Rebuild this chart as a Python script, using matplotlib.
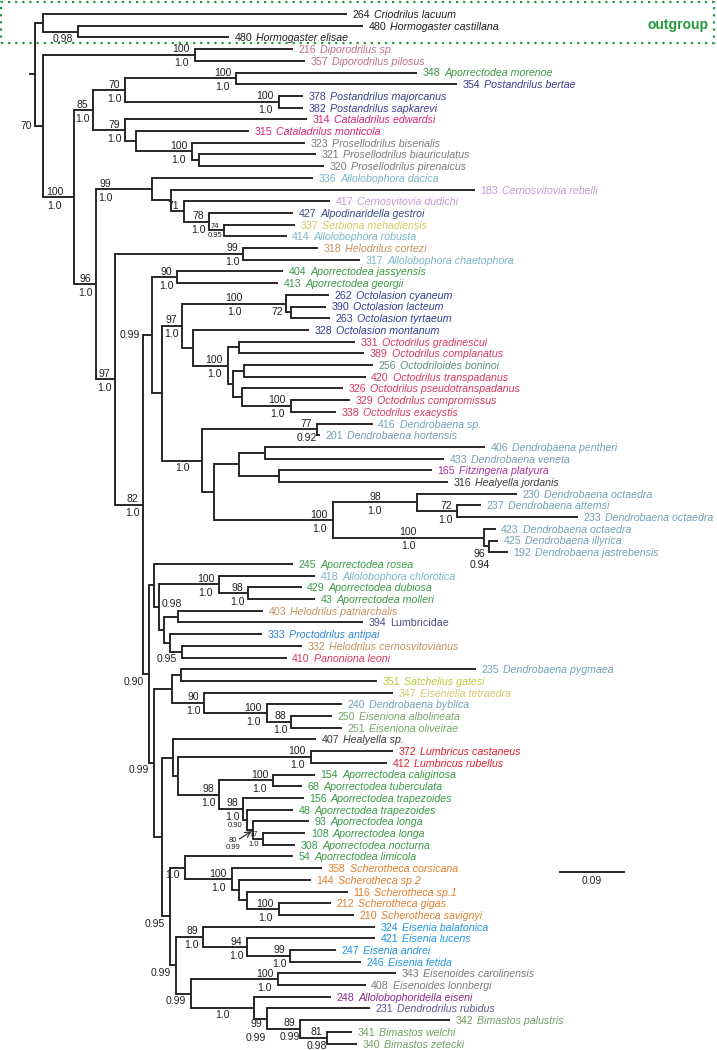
"""
Filogenia de minhocas (Lumbricidae) com valores de suporte
"""

import re
import matplotlib
matplotlib.use('Agg')  # backend sem janela
import matplotlib.pyplot as plt
from matplotlib.patches import Rectangle

# Terminais (ordem de cima para baixo)
TIP_ID = [264, 480, 480, 216, 357, 348, 354, 378, 382, 314, 315, 323, 321, 320,
          336, 183, 417, 427, 337, 414, 318, 317, 404, 413, 262, 390, 263, 328,
          331, 389, 256, 420, 326, 329, 338, 416, 201, 406, 433, 165, 316, 230,
          237, 233, 423, 425, 192, 245, 418, 429, 43, 403, 394, 333, 332, 410,
          235, 351, 347, 240, 250, 251, 407, 372, 412, 154, 68, 156, 48, 93,
          108, 308, 54, 358, 144, 116, 212, 210, 324, 421, 247, 246, 343, 408,
          248, 231, 342, 341, 340]

TIP_NAME = [
    'Criodrilus lacuum', 'Hormogaster castillana', 'Hormogaster elisae',
    'Diporodrilus sp.', 'Diporodrilus pilosus', 'Aporrectodea morenoe',
    'Postandrilus bertae', 'Postandrilus majorcanus', 'Postandrilus sapkarevi',
    'Cataladrilus edwardsi', 'Cataladrilus monticola', 'Prosellodrilus biserialis',
    'Prosellodrilus biauriculatus', 'Prosellodrilus pirenaicus',
    'Allolobophora dacica', 'Cernosvitovia rebelli', 'Cernosvitovia dudichi',
    'Alpodinaridella gestroi', 'Serbiona mehadiensis', 'Allolobophora robusta',
    'Helodrilus cortezi', 'Allolobophora chaetophora', 'Aporrectodea jassyensis',
    'Aporrectodea georgii', 'Octolasion cyaneum', 'Octolasion lacteum',
    'Octolasion tyrtaeum', 'Octolasion montanum', 'Octodrilus gradinescui',
    'Octodrilus complanatus', 'Octodriloides boninoi', 'Octodrilus transpadanus',
    'Octodrilus pseudotranspadanus', 'Octodrilus compromissus',
    'Octodrilus exacystis', 'Dendrobaena sp.', 'Dendrobaena hortensis',
    'Dendrobaena pentheri', 'Dendrobaena veneta', 'Fitzingeria platyura',
    'Healyella jordanis', 'Dendrobaena octaedra', 'Dendrobaena attemsi',
    'Dendrobaena octaedra', 'Dendrobaena octaedra', 'Dendrobaena illyrica',
    'Dendrobaena jastrebensis', 'Aporrectodea rosea', 'Allolobophora chlorotica',
    'Aporrectodea dubiosa', 'Aporrectodea molleri', 'Helodrilus patriarchalis',
    'Lumbricidae', 'Proctodrilus antipai', 'Helodrilus cernosvitovianus',
    'Panoniona leoni', 'Dendrobaena pygmaea', 'Satchelius gatesi',
    'Eiseniella tetraedra', 'Dendrobaena byblica', 'Eiseniona albolineata',
    'Eiseniona oliveirae', 'Healyella sp.', 'Lumbricus castaneus',
    'Lumbricus rubellus', 'Aporrectodea caliginosa', 'Aporrectodea tuberculata',
    'Aporrectodea trapezoides', 'Aporrectodea trapezoides', 'Aporrectodea longa',
    'Aporrectodea longa', 'Aporrectodea nocturna', 'Aporrectodea limicola',
    'Scherotheca corsicana', 'Scherotheca sp.2', 'Scherotheca sp.1',
    'Scherotheca gigas', 'Scherotheca savignyi', 'Eisenia balatonica',
    'Eisenia lucens', 'Eisenia andrei', 'Eisenia fetida',
    'Eisenoides carolinensis', 'Eisenoides lonnbergi',
    'Allolobophoridella eiseni', 'Dendrodrilus rubidus', 'Bimastos palustris',
    'Bimastos welchi', 'Bimastos zetecki']

TIP_GROUP = ['blk', 'blk', 'blk', 'dipo', 'dipo', 'apor', 'post', 'post', 'post',
             'cata', 'cata', 'pros', 'pros', 'pros', 'allo', 'cern', 'cern',
             'alpo', 'serb', 'allo', 'helo', 'allo', 'apor', 'apor', 'octl',
             'octl', 'octl', 'octl', 'octd', 'octd', 'octo', 'octd', 'octd',
             'octd', 'octd', 'dend', 'dend', 'dend', 'dend', 'fitz', 'heal',
             'dend', 'dend', 'dend', 'dend', 'dend', 'dend', 'apor', 'allo',
             'apor', 'apor', 'helo', 'lumb', 'proc', 'helo', 'pano', 'dend',
             'satc', 'eisl', 'dend', 'eisn', 'eisn', 'heal', 'lumr', 'lumr',
             'apor', 'apor', 'apor', 'apor', 'apor', 'apor', 'apor', 'apor',
             'sche', 'sche', 'sche', 'sche', 'sche', 'eise', 'eise', 'eise',
             'eise', 'eino', 'eino', 'alld', 'dedr', 'bima', 'bima', 'bima']

# distancia da raiz (subst./sitio) de cada terminal
TIP_DEPTH = [0.439, 0.461, 0.273, 0.363, 0.380, 0.537, 0.593, 0.377, 0.377,
             0.383, 0.301, 0.380, 0.395, 0.406, 0.391, 0.619, 0.415, 0.363,
             0.366, 0.354, 0.398, 0.457, 0.349, 0.342, 0.413, 0.409, 0.415,
             0.385, 0.450, 0.463, 0.475, 0.465, 0.433, 0.443, 0.423, 0.475,
             0.401, 0.633, 0.575, 0.558, 0.581, 0.678, 0.627, 0.764, 0.648,
             0.651, 0.665, 0.363, 0.394, 0.375, 0.394, 0.321, 0.461, 0.319,
             0.375, 0.354, 0.620, 0.481, 0.503, 0.432, 0.418, 0.432, 0.395,
             0.503, 0.495, 0.394, 0.375, 0.378, 0.363, 0.385, 0.380, 0.366,
             0.363, 0.404, 0.388, 0.440, 0.416, 0.449, 0.478, 0.478, 0.423,
             0.458, 0.508, 0.465, 0.416, 0.471, 0.584, 0.446, 0.453]

# topologia (tN = terminal N, nomes depois de ')' = nos internos)
TREE = (
    "((t0,(t1,t2)HORM)OG,((t3,t4)DIP,"
    "((((t5,t6)MOR,(t7,t8)POST)N70,(t9,(t10,(t11,(t12,t13)PROS2)PROS)CAT2)N79)N85,"
    "((t14,(t15,(t16,(t17,(t18,t19)N74)N78)N71)CER)C99,"
    "((t20,t21)HELO,"
    "(((t22,t23)N90J,(((t24,(t25,t26)OCT2)OCTL,(t27,((t28,t29)ODA,((t30,t31)ODC,"
    "(t32,(t33,t34)ODE)ODD)ODB)OD100)N193)N97O,((t35,t36)D77,(((t37,t38)DPV,"
    "(t39,t40)FH)N239,((t41,(t42,t43)D72)D98,(t44,(t45,t46)D96)D100b)D100)N214)N1D)N162)C099,"
    "((t47,((t48,(t49,t50)N248)N219,((t51,t52)N178,(t53,(t54,t55)N182)N170)N164)N159)N154a,"
    "(((t56,t57)N181,(t58,(t59,(t60,t61)N88)N100E)N90E)N172,"
    "((t62,((t63,t64)LUM,((t65,t66)N273,(t67,(t68,(t69,(t70,t71)N263)N253)N247)N243)N219b)N178b)N173,"
    "((t72,(t73,(t74,(t75,(t76,t77)N279)N247s)N239s)N232)N185,"
    "((t78,(t79,(t80,t81)N290)N247e)N203,((t82,t83)N278,"
    "(t84,(t85,(t86,(t87,t88)N327)N300)N267)N254)N191)N176)N170b)N162b)N154b)C090)C82)C97)N96)A)IN)ROOT"
)

NODE_DEPTH = {
    'ROOT': 0.0, 'OG': 0.011, 'HORM': 0.060, 'IN': 0.011, 'DIP': 0.225,
    'A': 0.055, 'N85': 0.082, 'N70': 0.127, 'MOR': 0.283, 'POST': 0.343,
    'N79': 0.127, 'CAT2': 0.142, 'PROS': 0.221, 'PROS2': 0.231, 'N96': 0.086,
    'C99': 0.165, 'CER': 0.191, 'N71': 0.210, 'N78': 0.245, 'N74': 0.266,
    'C97': 0.113, 'HELO': 0.293, 'C82': 0.152, 'C099': 0.165, 'N90J': 0.200,
    'N162': 0.179, 'N97O': 0.207, 'OCTL': 0.353, 'OCT2': 0.360, 'N193': 0.222,
    'OD100': 0.271, 'ODA': 0.287, 'ODB': 0.278, 'ODC': 0.294, 'ODD': 0.291,
    'ODE': 0.360, 'N1D': 0.235, 'D77': 0.397, 'N214': 0.252, 'N239': 0.287,
    'DPV': 0.323, 'FH': 0.343, 'D100': 0.419, 'D98': 0.537, 'D72': 0.593,
    'D100b': 0.631, 'D96': 0.638, 'C090': 0.160, 'N154a': 0.167,
    'N159': 0.174, 'N219': 0.259, 'N248': 0.300, 'N164': 0.181, 'N178': 0.201,
    'N170': 0.190, 'N182': 0.207, 'N154b': 0.167, 'N172': 0.193,
    'N181': 0.205, 'N90E': 0.238, 'N100E': 0.326, 'N88': 0.360,
    'N162b': 0.179, 'N173': 0.194, 'N178b': 0.201, 'LUM': 0.388,
    'N219b': 0.259, 'N273': 0.335, 'N243': 0.293, 'N247': 0.298,
    'N253': 0.307, 'N263': 0.321, 'N170b': 0.190, 'N185': 0.211,
    'N232': 0.277, 'N239s': 0.287, 'N247s': 0.298, 'N279': 0.343,
    'N176': 0.198, 'N203': 0.236, 'N247e': 0.298, 'N290': 0.359,
    'N191': 0.219, 'N278': 0.342, 'N254': 0.308, 'N267': 0.326,
    'N300': 0.373, 'N327': 0.411,
}

# (bootstrap, probabilidade posterior)
SUPPORT = {
    'HORM': ('', '0.98'), 'IN': ('70', ''), 'DIP': ('100', '1.0'),
    'A': ('100', '1.0'), 'N85': ('85', '1.0'), 'N70': ('70', '1.0'),
    'MOR': ('100', '1.0'), 'POST': ('100', '1.0'), 'N79': ('79', '1.0'),
    'PROS': ('100', '1.0'), 'N96': ('96', '1.0'), 'C99': ('99', '1.0'),
    'N71': ('71', ''), 'N78': ('78', '1.0'), 'N74': ('74', '0.95'),
    'C97': ('97', '1.0'), 'HELO': ('99', '1.0'), 'C82': ('82', '1.0'),
    'C099': ('0.99', ''), 'N90J': ('90', '1.0'), 'N97O': ('97', '1.0'),
    'OCTL': ('100', '1.0'), 'OCT2': ('72', ''), 'OD100': ('100', '1.0'),
    'ODE': ('100', '1.0'), 'N1D': ('', '1.0'), 'D77': ('77', '0.92'),
    'D100': ('100', '1.0'), 'D98': ('98', '1.0'), 'D72': ('72', '1.0'),
    'D100b': ('100', '1.0'), 'D96': ('96', '0.94'), 'C090': ('', '0.90'),
    'N159': ('0.98', ''), 'N219': ('100', '1.0'), 'N248': ('98', '1.0'),
    'N182': ('', '0.95'), 'N154b': ('', '0.99'), 'N90E': ('90', '1.0'),
    'N100E': ('100', '1.0'), 'N88': ('88', '1.0'), 'N170b': ('', '0.95'),
    'N219b': ('98', '1.0'), 'LUM': ('100', '1.0'), 'N273': ('100', '1.0'),
    'N243': ('98', '1.0'), 'N247': ('', '0.90'), 'N253': ('80', '0.99'),
    'N263': ('97', '1.0'), 'N185': ('', '1.0'), 'N232': ('100', '1.0'),
    'N279': ('100', '1.0'), 'N176': ('', '0.99'), 'N203': ('89', '1.0'),
    'N247e': ('94', '1.0'), 'N290': ('99', '1.0'), 'N191': ('', '0.99'),
    'N278': ('100', '1.0'), 'N254': ('', '1.0'), 'N267': ('99', '0.99'),
    'N300': ('89', '0.99'), 'N327': ('81', '0.98'),
}

SCALE_BAR = 0.09

# Cores por genero
GROUP_COLOR = {
    'blk': '#231f20', 'dipo': '#c0708c', 'apor': '#3a9a47', 'post': '#3b3f8f',
    'cata': '#d4237a', 'pros': '#7a7a7a', 'allo': '#7ab6c8', 'cern': '#c49ad2',
    'alpo': '#3c4a7e', 'serb': '#d2c862', 'helo': '#c4925e', 'octl': '#323f92',
    'octd': '#d6395d', 'octo': '#5c8f7e', 'dend': '#74a0b6', 'fitz': '#b0309a',
    'heal': '#3c3c3c', 'lumb': '#4c5082', 'proc': '#2e86d2', 'pano': '#d23a5c',
    'satc': '#bcc83a', 'eisl': '#d8c86a', 'eisn': '#76a66a', 'lumr': '#e2202c',
    'sche': '#e07f2e', 'eise': '#2196e0', 'eino': '#7a7a7a', 'alld': '#8a2a8a',
    'dedr': '#5a5a96', 'bima': '#6ea062',
}

# posicao dos rotulos de suporte (padrao = junto ao no)
LABEL_MODE = {
    'IN': 'lp', 'C099': 'lp', 'OCT2': 'lp', 'A': 'start', 'C99': 'start',
    'OCTL': 'mid', 'N1D': 'mid', 'D98': 'mid', 'D100b': 'mid', 'N254': 'mid',
    'N159': 'r', 'D96': 'under', 'N253': 'arrow',
}
LABEL_SHIFT = {'N267': -11}  # deslocamento vertical extra (px)
SMALL = {'N74', 'N247', 'N253', 'N263'}

INK = '#231f20'
FS = 7.7
FS_SUP = 7.5
P = 0.72  # pontos por pixel (dpi 100)

plt.rcParams['font.family'] = ['Liberation Sans', 'DejaVu Sans']


def parse(s):
    pos = 0

    def node():
        nonlocal pos
        if s[pos] == '(':
            pos += 1
            kids = [node()]
            while s[pos] == ',':
                pos += 1
                kids.append(node())
            pos += 1
            name = re.match(r'[A-Za-z0-9]*', s[pos:]).group(0)
            pos += len(name)
            return (name, kids)
        m = re.match(r't(\d+)', s[pos:])
        pos += len(m.group(0))
        return int(m.group(1))

    return node()


fig = plt.figure(figsize=(7.17, 10.5), dpi=100)
ax = fig.add_axes([0, 0, 1, 1])
ax.set_axis_off()
unit = SCALE_BAR / 64.0  # barra de escala = 64 px
row = 11.7
ax.set_xlim(-35 * unit, 682 * unit)
ax.set_ylim((1050 - 14) / row, -14 / row)

lw = 1.35
nodes = {}


def draw(n, parent_x):
    if isinstance(n, int):
        return TIP_DEPTH[n], n
    name, kids = n
    x = NODE_DEPTH[name]
    ys = []
    for k in kids:
        kx, ky = draw(k, x)
        ax.plot([x, kx], [ky, ky], color=INK, lw=lw, solid_capstyle='butt')
        ys.append(ky)
    ax.plot([x, x], [min(ys), max(ys)], color=INK, lw=lw, solid_capstyle='projecting')
    y = (ys[0] + ys[-1]) / 2.0
    nodes[name] = (x, y, parent_x)
    return x, y


tree = parse(TREE)
rx, ry = draw(tree, 0.0)
ax.plot([rx - 5 * unit, rx], [ry, ry], color=INK, lw=lw)

# rotulos dos terminais
for i, tid in enumerate(TIP_ID):
    c = GROUP_COLOR[TIP_GROUP[i]]
    num = ax.annotate(str(tid), (TIP_DEPTH[i], i), xytext=(5.5 * P, 0),
                      textcoords='offset points', ha='left', va='center_baseline',
                      fontsize=FS, color=c)
    st = 'normal' if TIP_NAME[i] == 'Lumbricidae' else 'italic'
    ax.annotate(TIP_NAME[i], xy=(1, 0), xycoords=num, xytext=(4 * P, 0),
                textcoords='offset points', ha='left', va='bottom',
                fontsize=FS, color=c, style=st)


def put(txt, x, y, dx, dy, ha, va, fs):
    return ax.annotate(txt, (x, y), xytext=(dx * P, dy * P), textcoords='offset points',
                       ha=ha, va=va, fontsize=fs, color=INK)


def under(txt, ref, gap, fs):
    return ax.annotate(txt, xy=(0.5, 0), xycoords=ref, xytext=(0, -gap * P),
                       textcoords='offset points', ha='center', va='top',
                       fontsize=fs, color=INK)


for name, (top, bot) in SUPPORT.items():
    x, y, px_ = nodes[name]
    mode = LABEL_MODE.get(name, 'node')
    fs = 5.5 if name in SMALL else FS_SUP
    g = 2.5 if name in SMALL else 4
    sh = LABEL_SHIFT.get(name, 0)
    if mode == 'lp':
        put(top, px_, y, -3, 0, 'right', 'center', fs)
        continue
    if mode == 'r':
        put(top, x, y, 3, 3, 'left', 'center', fs)
        continue
    if mode == 'under':
        t = put(top, x, y, -9, -3, 'center', 'top', fs)
        under(bot, t, 1, fs)
        continue
    if mode == 'arrow':
        t = put(top, x, y, -16, -10, 'right', 'center', fs)
        under(bot, t, 0.5, fs)
        ax.annotate('', xy=(x, y), xytext=(-14 * P, -9 * P), textcoords='offset points',
                    arrowprops=dict(arrowstyle='->', lw=0.8, color=INK,
                                    shrinkA=0, shrinkB=1.5))
        continue
    if mode == 'mid':
        ax_x, dx, ha = (px_ + x) / 2.0, 0, 'center'
    elif mode == 'start':
        ax_x, dx, ha = px_, 3, 'left'
    else:
        ax_x, dx, ha = x, -5, 'right'
    if top:
        t = put(top, ax_x, y, dx, 0.5 + sh, ha, 'bottom', fs)
        if bot:
            under(bot, t, g, fs)
    elif bot:
        put(bot, ax_x, y, dx, -2.5 + sh, ha, 'top', fs)

# barra de escala
sb_x = 0.738
sb_y = (872 - 14) / row
ax.plot([sb_x, sb_x + SCALE_BAR], [sb_y, sb_y], color=INK, lw=lw)
ax.annotate(f'{SCALE_BAR:.2f}', (sb_x + SCALE_BAR / 2, sb_y), xytext=(0, -4 * P),
            textcoords='offset points', ha='center', va='top', fontsize=FS_SUP, color=INK)

# caixa do grupo externo
green = '#1f9a3a'
ax.add_patch(Rectangle((1 / 717, 1 - 43 / 1050), 713 / 717, 41 / 1050,
                       transform=ax.transAxes, fill=False, ec=green, lw=1.6,
                       ls=(0, (1, 2.2)), clip_on=False))
ax.text(709 / 717, 1 - 25 / 1050, 'outgroup', transform=ax.transAxes,
        ha='right', va='center', fontsize=10, fontweight='bold', color=green)

fig.savefig('out.png', dpi=100)
